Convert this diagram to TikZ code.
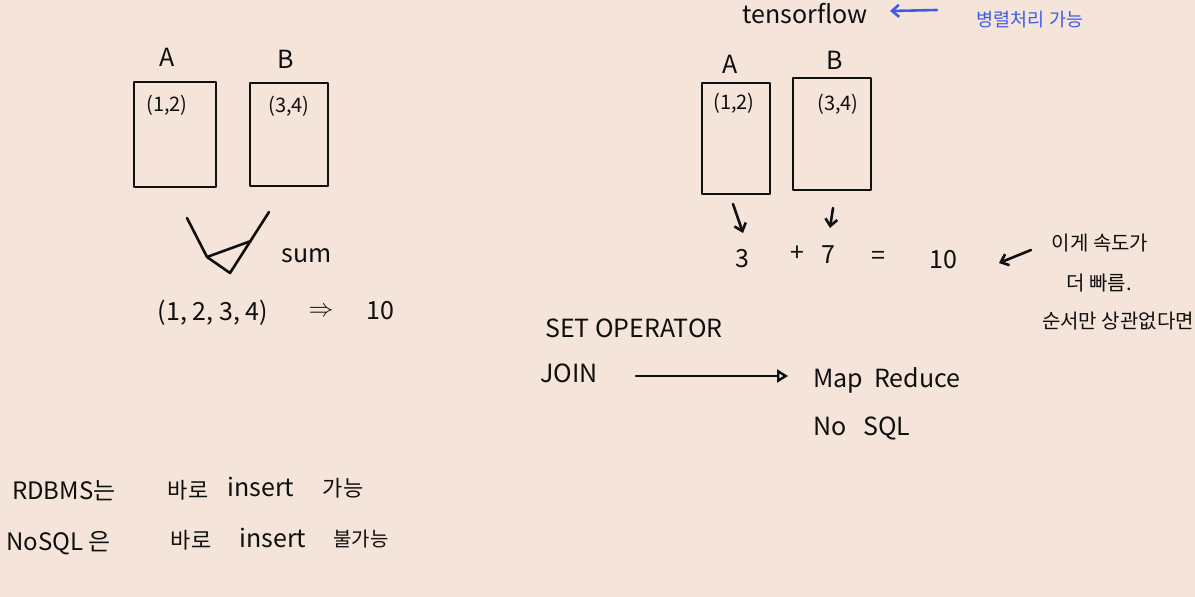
\documentclass[tikz,border=0pt]{standalone}
\usepackage{fontspec}
\setmainfont{Noto Sans CJK KR}
\usetikzlibrary{arrows.meta}
\definecolor{paper}{RGB}{245,228,217}
\definecolor{pen}{RGB}{15,15,15}
\definecolor{bluepen}{RGB}{62,92,232}
\tikzset{
  ink/.style={draw=pen, line width=2.6pt, line cap=round, line join=round},
  txt/.style={text=pen, inner sep=0pt, font=\fontsize{25}{28}\selectfont},
  small/.style={text=pen, inner sep=0pt, font=\fontsize{20}{24}\selectfont},
  kor/.style={text=pen, inner sep=0pt, font=\fontsize{22}{26}\selectfont},
  kors/.style={text=pen, inner sep=0pt, font=\fontsize{20}{24}\selectfont},
  databox/.style={ink, fill=none},
  barb/.style={ink, -{Straight Barb[length=7pt,width=12pt]}},
}
\begin{document}
\begin{tikzpicture}[x=1pt,y=-1pt]
\fill[paper] (0,0) rectangle (1195,597);
\useasboundingbox (0,0) rectangle (1195,597);

% ---------- left: A, B boxes ----------
\node[txt] (lA) at (167,57) {A};
\node[txt] (lB) at (286,59) {B};
\draw[databox] (134,82) rectangle (216,187);
\draw[databox] (250,83) rectangle (328,186);
\node[small] (lA12) at (167,105) {(1,2)};
\node[small] (lB34) at (289,106) {(3,4)};

% funnel
\coordinate (f1) at (187,218);
\coordinate (f2) at (207,257);
\coordinate (f3) at (230,273);
\coordinate (f4) at (251,241);
\coordinate (f5) at (269,212);
\draw[ink] (f1) -- (f2) -- (f4);
\draw[ink] (f2) -- (f3) -- (f5);
\node[txt] (sum) at (307,256) {sum};

\node[txt] (list) at (213,313) {(1, 2, 3, 4)};
\node[txt] (impl) at (321,312) {$\Rightarrow$};
\node[txt] (ten1) at (380,311) {10};

% ---------- right top ----------
\node[txt] (tf) at (805,14) {tensorflow};
\coordinate (ba1) at (937,10);
\coordinate (ba2) at (890,11);
\draw[draw=bluepen, line width=2.6pt, line cap=round, -{Straight Barb[length=7pt,width=12pt]}] (ba1) -- (ba2);
\node[text=bluepen, inner sep=0pt, font=\fontsize{18.5}{22}\selectfont] (par) at (1030,20) {병렬처리 가능};

\node[txt] (rA) at (730,64) {A};
\node[txt] (rB) at (835,60) {B};
\draw[databox] (702,83) rectangle (770,194);
\draw[databox] (793,78) rectangle (871,190);
\node[small] (rA12) at (734,103) {(1,2)};
\node[small] (rB34) at (838,104) {(3,4)};

\node[txt] (three) at (742,259) {3};
\node[txt] (plus) at (797,254) {+};
\node[txt] (seven) at (828,255) {7};
\node[txt] (eq) at (878,258) {=};
\node[txt] (ten2) at (943,260) {10};

\coordinate (a1s) at (733,204);
\coordinate (a1e) at (743,233);
\coordinate (a2s) at (833,208);
\coordinate (a2e) at (830,228);
\draw[barb] (a1s) -- (a1e);
\draw[barb] (a2s) -- (a2e);

\coordinate (n1) at (1031,250);
\coordinate (n2) at (999,263);
\draw[barb] (n1) -- (n2);
\node[kors] (note1) at (1100,243) {이게 속도가};
\node[kors] (note2) at (1099,283) {더 빠름.};
\node[kors, anchor=east] (note3) at (1194,321) {순서만 상관없다면};

% ---------- right middle ----------
\node[txt, anchor=west] (setop) at (545,328) {SET OPERATOR};
\node[txt, anchor=west] (join) at (540,373) {JOIN};
\node[txt, anchor=west] (mapred) at (813,380) {Map \ Reduce};
\node[txt, anchor=west] (nosql) at (813,428) {No \ \ SQL};
\draw[ink, -{Triangle[open, length=11pt, width=13pt, line width=2.4pt]}] (636,376) -- (788,376);

% ---------- bottom left ----------
\node[kor, anchor=west, font=\fontsize{24}{28}\selectfont] (r1a) at (12,491) {RDBMS는};
\node[kor] (r1b) at (188,490) {바로};
\node[txt] (r1c) at (261,487) {insert};
\node[kor] (r1d) at (343,488) {가능};
\node[kor, anchor=west, font=\fontsize{24}{28}\selectfont] (r2a) at (6,543) {NoSQL 은};
\node[kor] (r2b) at (191,540) {바로};
\node[txt] (r2c) at (273,538) {insert};
\node[kor, font=\fontsize{20}{24}\selectfont] (r2d) at (361,539) {불가능};
\end{tikzpicture}
\end{document}
